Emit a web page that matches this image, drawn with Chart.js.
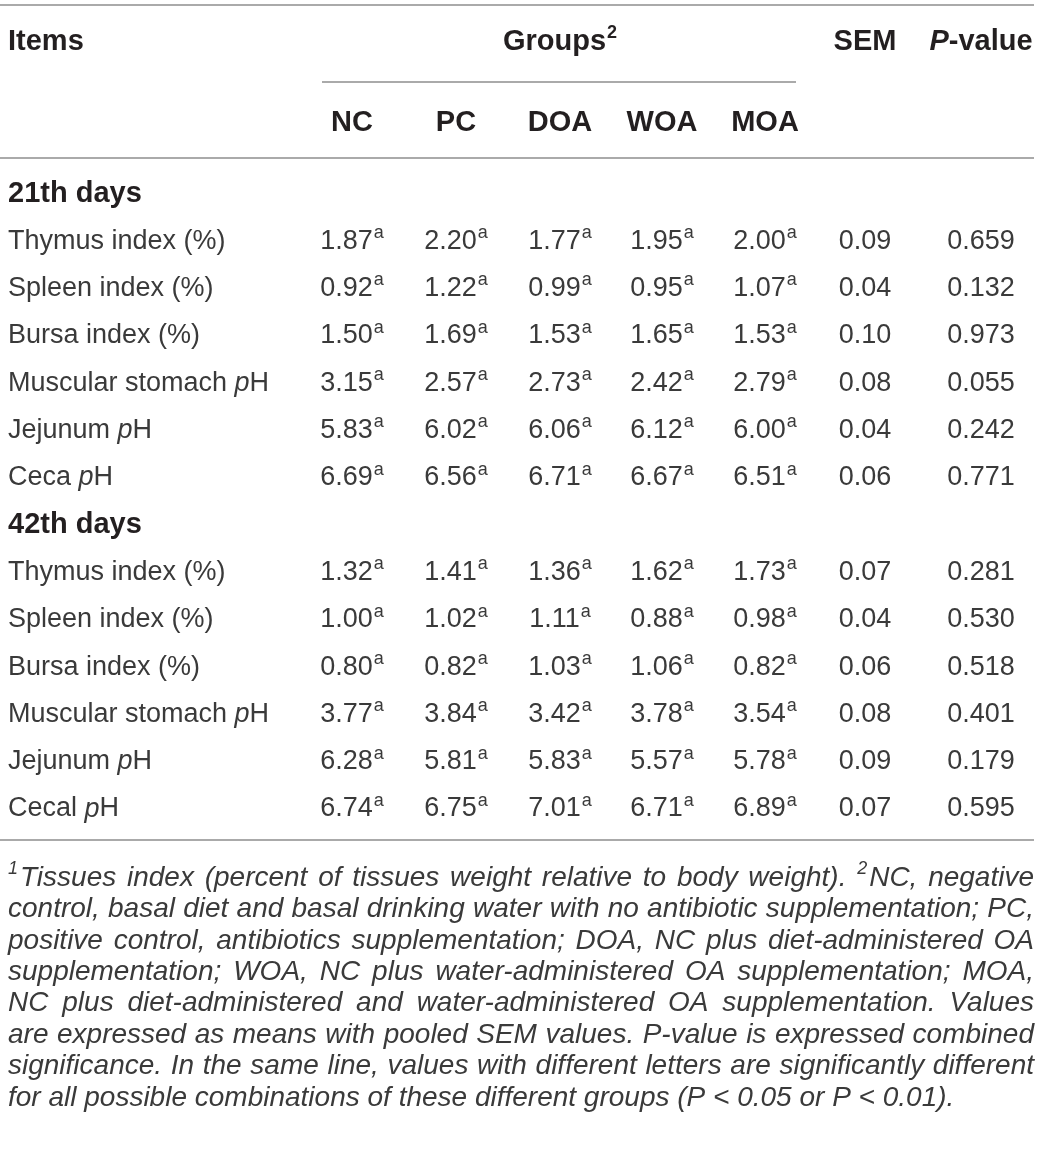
<!DOCTYPE html>
<html>
<head>
<meta charset="utf-8">
<script src="https://cdn.jsdelivr.net/npm/chart.js@4.4.0/dist/chart.umd.min.js"></script>
<style>
  html, body { margin: 0; padding: 0; background: #fff; }
  #wrap { width: 1042px; height: 1160px; position: relative; }
</style>
</head>
<body>
<div id="wrap"><canvas id="tableChart"></canvas></div>
<script>
// table rows (section titles are null in the value arrays)
var rowLabels = [
    '21th days',
    'Thymus index (%)', 'Spleen index (%)', 'Bursa index (%)',
    'Muscular stomach pH', 'Jejunum pH', 'Ceca pH',
    '42th days',
    'Thymus index (%)', 'Spleen index (%)', 'Bursa index (%)',
    'Muscular stomach pH', 'Jejunum pH', 'Cecal pH'
];
var sectionRows = [0, 7];

var groups = ['NC', 'PC', 'DOA', 'WOA', 'MOA'];

var nc  = [null, 1.87, 0.92, 1.50, 3.15, 5.83, 6.69, null, 1.32, 1.00, 0.80, 3.77, 6.28, 6.74];
var pc  = [null, 2.20, 1.22, 1.69, 2.57, 6.02, 6.56, null, 1.41, 1.02, 0.82, 3.84, 5.81, 6.75];
var doa = [null, 1.77, 0.99, 1.53, 2.73, 6.06, 6.71, null, 1.36, 1.11, 1.03, 3.42, 5.83, 7.01];
var woa = [null, 1.95, 0.95, 1.65, 2.42, 6.12, 6.67, null, 1.62, 0.88, 1.06, 3.78, 5.57, 6.71];
var moa = [null, 2.00, 1.07, 1.53, 2.79, 6.00, 6.51, null, 1.73, 0.98, 0.82, 3.54, 5.78, 6.89];
var sem = [null, 0.09, 0.04, 0.10, 0.08, 0.04, 0.06, null, 0.07, 0.04, 0.06, 0.08, 0.09, 0.07];
var pValue = [null, 0.659, 0.132, 0.973, 0.055, 0.242, 0.771, null, 0.281, 0.530, 0.518, 0.401, 0.179, 0.595];
var letter = 'a';

var footnote = [
    '\u00b9Tissues index (percent of tissues weight relative to body weight). \u00b2NC, negative',
    'control, basal diet and basal drinking water with no antibiotic supplementation; PC,',
    'positive control, antibiotics supplementation; DOA, NC plus diet-administered OA',
    'supplementation; WOA, NC plus water-administered OA supplementation; MOA,',
    'NC plus diet-administered and water-administered OA supplementation. Values',
    'are expressed as means with pooled SEM values. P-value is expressed combined',
    'significance. In the same line, values with different letters are significantly different',
    'for all possible combinations of these different groups (P < 0.05 or P < 0.01).'
];

// layout
var colX = [352, 456, 560, 662, 765, 865, 981];
var FONT = '"Liberation Sans", Arial, sans-serif';
var INK = '#3a3a3a';
var HEAD = '#231f20';
var RULE = '#8e8e8e';
var BOLD = 'bold 29px ' + FONT;

var columns = [nc, pc, doa, woa, moa, sem, pValue];
var datasets = columns.map(function (vals, j) {
    var pts = [];
    vals.forEach(function (v, i) {
        if (v !== null) pts.push({ x: colX[j], y: i, v: v });
    });
    return { label: j < 5 ? groups[j] : (j == 5 ? 'SEM' : 'P-value'), data: pts, pointRadius: 0 };
});

function drawSup(ctx, txt, sup, cx, cy, size) {
    ctx.font = size + 'px ' + FONT;
    var w1 = ctx.measureText(txt).width;
    ctx.font = Math.round(size * 0.66) + 'px ' + FONT;
    var w2 = ctx.measureText(sup).width;
    var x0 = cx - (w1 + w2 + 1) / 2;
    ctx.textAlign = 'left';
    ctx.font = size + 'px ' + FONT;
    ctx.fillText(txt, x0, cy);
    ctx.font = Math.round(size * 0.66) + 'px ' + FONT;
    ctx.fillText(sup, x0 + w1 + 1, cy - size * 0.3);
}

// label with italic p in "pH"
function drawLabel(ctx, txt, x, y, size) {
    var k = txt.indexOf('pH');
    ctx.textAlign = 'left';
    ctx.font = size + 'px ' + FONT;
    if (k < 0) { ctx.fillText(txt, x, y); return; }
    var a = txt.slice(0, k);
    ctx.fillText(a, x, y);
    x += ctx.measureText(a).width;
    ctx.font = 'italic ' + size + 'px ' + FONT;
    ctx.fillText('p', x, y);
    x += ctx.measureText('p').width;
    ctx.font = size + 'px ' + FONT;
    ctx.fillText('H', x, y);
}

function hline(ctx, x1, x2, y) {
    ctx.strokeStyle = RULE;
    ctx.lineWidth = 1.6;
    ctx.beginPath();
    ctx.moveTo(x1, y);
    ctx.lineTo(x2, y);
    ctx.stroke();
}

// footnote line, justified, superscript digits handled
function footLine(ctx, line, y, justify) {
    var size = 28, supSize = 18;
    var left = 8, right = 1034;
    var words = line.split(' ');
    var pieces = words.map(function (w) {
        var parts = [];
        var buf = '';
        for (var c of w) {
            if (c === '\u00b9' || c === '\u00b2') {
                if (buf) parts.push({ t: buf, s: false });
                buf = '';
                parts.push({ t: c === '\u00b9' ? '1' : '2', s: true });
            } else buf += c;
        }
        if (buf) parts.push({ t: buf, s: false });
        var w0 = 0;
        parts.forEach(function (p) {
            ctx.font = 'italic ' + (p.s ? supSize : size) + 'px ' + FONT;
            p.w = ctx.measureText(p.t).width + (p.s ? 2 : 0);
            w0 += p.w;
        });
        return { parts: parts, w: w0 };
    });
    var total = pieces.reduce(function (s, p) { return s + p.w; }, 0);
    ctx.font = 'italic ' + size + 'px ' + FONT;
    var space = ctx.measureText(' ').width;
    var gap = space;
    if (justify && words.length > 1) gap = (right - left - total) / (words.length - 1);
    // squeeze glyphs a little if a line would not fit
    var scale = 1;
    if (gap < space * 0.5) {
        gap = space * 0.5;
        scale = (right - left - gap * (words.length - 1)) / total;
    }
    ctx.save();
    ctx.translate(left, y);
    ctx.scale(scale, 1);
    var x = 0;
    ctx.textAlign = 'left';
    pieces.forEach(function (p) {
        p.parts.forEach(function (q) {
            ctx.font = 'italic ' + (q.s ? supSize : size) + 'px ' + FONT;
            ctx.fillText(q.t, x, q.s ? -9 : 0);
            x += q.w;
        });
        x += gap / scale;
    });
    ctx.restore();
}

var tablePlugin = {
    id: 'tablePlugin',
    afterDatasetsDraw: function (chart) {
        var ctx = chart.ctx;
        var ys = chart.scales.y;
        ctx.save();
        ctx.textBaseline = 'middle';

        // header
        hline(ctx, 0, 1034, 5);
        ctx.fillStyle = HEAD;
        ctx.font = BOLD;
        ctx.textAlign = 'left';
        ctx.fillText('Items', 8, 42);
        // Groups with superscript 2
        var gw = ctx.measureText('Groups').width;
        ctx.font = 'bold 18px ' + FONT;
        var sw = ctx.measureText('2').width;
        var gx = colX[2] - (gw + sw + 1) / 2;
        ctx.font = BOLD;
        ctx.fillText('Groups', gx, 42);
        ctx.font = 'bold 18px ' + FONT;
        ctx.fillText('2', gx + gw + 1, 33);
        ctx.font = BOLD;
        ctx.textAlign = 'center';
        ctx.fillText('SEM', colX[5], 42);
        // P-value: italic P
        var pw = ctx.measureText('-value').width;
        ctx.font = 'italic ' + BOLD;
        var pw0 = ctx.measureText('P').width;
        var px = colX[6] - (pw + pw0) / 2;
        ctx.textAlign = 'left';
        ctx.fillText('P', px, 42);
        ctx.font = BOLD;
        ctx.fillText('-value', px + pw0, 42);

        hline(ctx, 322, 796, 82);
        ctx.textAlign = 'center';
        groups.forEach(function (g, j) {
            ctx.fillText(g, colX[j], 123);
        });
        hline(ctx, 0, 1034, 158);

        // row labels
        rowLabels.forEach(function (lab, i) {
            var y = ys.getPixelForValue(i);
            if (sectionRows.indexOf(i) >= 0) {
                ctx.fillStyle = HEAD;
                ctx.font = BOLD;
                ctx.textAlign = 'left';
                ctx.fillText(lab, 8, y);
            } else {
                ctx.fillStyle = INK;
                drawLabel(ctx, lab, 8, y, 27);
            }
        });

        // cells
        ctx.fillStyle = INK;
        chart.data.datasets.forEach(function (ds, j) {
            var meta = chart.getDatasetMeta(j);
            meta.data.forEach(function (el, i) {
                var v = ds.data[i].v;
                if (j < 5) {
                    drawSup(ctx, v.toFixed(2), letter, el.x, el.y, 27);
                } else {
                    ctx.font = '27px ' + FONT;
                    ctx.textAlign = 'center';
                    ctx.fillText(j == 5 ? v.toFixed(2) : v.toFixed(3), el.x, el.y);
                }
            });
        });

        hline(ctx, 0, 1034, 840);

        // footnote
        ctx.fillStyle = INK;
        footnote.forEach(function (line, k) {
            footLine(ctx, line, 878 + k * 31.4, k < footnote.length - 1);
        });
        ctx.restore();
    }
};

new Chart(document.getElementById('tableChart'), {
    type: 'scatter',
    data: { datasets: datasets },
    options: {
        responsive: true,
        maintainAspectRatio: false,
        animation: false,
        layout: { padding: { top: 194, bottom: 351, left: 0, right: 0 } },
        plugins: { legend: { display: false }, tooltip: { enabled: false } },
        scales: {
            x: { type: 'linear', min: 0, max: 1042, display: false },
            y: { type: 'linear', min: 0, max: rowLabels.length - 1, reverse: true, display: false }
        }
    },
    plugins: [tablePlugin]
});
</script>
</body>
</html>
